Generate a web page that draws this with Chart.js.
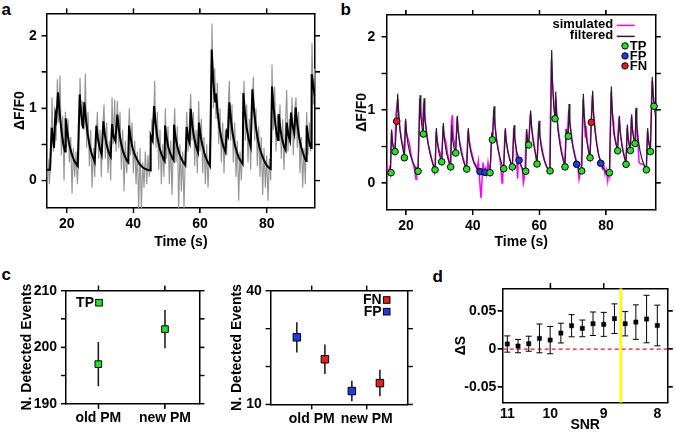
<!DOCTYPE html>
<html><head><meta charset="utf-8">
<script src="https://cdn.jsdelivr.net/npm/chart.js@4/dist/chart.umd.min.js"></script>
<style>
html,body{margin:0;padding:0;background:#fff;width:675px;height:435px;overflow:hidden;position:relative;}
canvas{position:absolute;}
.lbl{position:absolute;font:bold 17px "Liberation Sans",Arial,sans-serif;line-height:17px;color:#000;}
</style></head><body>
<div class="lbl" style="left:1.5px;top:0.6px">a</div>
<div class="lbl" style="left:340.5px;top:0.6px">b</div>
<div class="lbl" style="left:1.5px;top:265.6px">c</div>
<div class="lbl" style="left:432.5px;top:267.6px">d</div>
<canvas id="ca" width="337" height="252" style="left:0px;top:0px"></canvas>
<canvas id="cb" width="338" height="252" style="left:337px;top:0px"></canvas>
<canvas id="cc1" width="225" height="180" style="left:0px;top:255px"></canvas>
<canvas id="cc2" width="215" height="180" style="left:225px;top:255px"></canvas>
<canvas id="cd" width="235" height="180" style="left:440px;top:255px"></canvas>
<script>
// ---------------- DATA ----------------
// Panel a: model fit (black) as [time s, dF/F0]
const aFit = [[14.0,.15],[15.0,.15],[15.5,.73],[16.2,.45],[16.6,.92],[16.9,.85],[17.4,1.22],[18.0,.88],[18.5,.66],[19.0,.50],[19.5,.40],[19.7,.86],[20.2,.66],[20.7,.52],[21.2,.42],[21.7,.34],[22.2,.28],[22.7,.24],[23.3,.20],[23.9,1.19],[24.4,.90],[24.9,.72],[25.3,1.08],[25.8,.83],[26.3,.64],[26.8,.50],[27.3,.40],[27.8,.33],[28.4,.26],[28.9,.76],[29.4,.57],[29.9,.45],[30.5,.36],[31.0,.82],[31.5,.62],[32.0,.49],[32.6,.39],[33.2,.33],[33.6,.78],[34.1,.60],[34.6,.55],[35.2,.91],[35.7,.69],[36.2,.54],[36.8,.42],[37.4,.34],[38.0,.28],[38.5,.25],[38.7,.76],[39.2,.58],[39.7,.46],[40.3,.37],[41.0,.30],[41.8,.23],[42.6,.19],[43.5,.16],[44.5,.145],[45.1,.14],[45.2,.62],[45.8,.55],[46.2,1.03],[46.7,.78],[47.2,.60],[47.8,.46],[48.4,.37],[49.0,.30],[49.4,.27],[49.5,.76],[50.0,.58],[50.5,.46],[51.1,.37],[51.7,.31],[52.1,.28],[52.2,.77],[52.7,.59],[53.2,.47],[53.8,.37],[54.4,.30],[55.0,.25],[55.6,.21],[56.0,.74],[56.5,.58],[56.9,.52],[57.2,.99],[57.7,.76],[58.2,.60],[58.8,.47],[59.4,.39],[59.7,.80],[60.2,.61],[60.7,.49],[61.3,.38],[61.9,.30],[62.5,.24],[63.0,.20],[63.5,1.81],[64.0,1.36],[64.5,1.08],[64.8,1.20],[65.3,.93],[65.8,.74],[66.4,.58],[67.0,.47],[67.6,.40],[68.0,.67],[68.4,.62],[68.8,1.08],[69.3,.83],[69.8,.65],[70.4,.50],[71.0,.40],[71.6,.32],[72.2,.27],[72.8,.23],[73.0,1.21],[73.5,.93],[74.0,.73],[74.6,.57],[75.2,.47],[75.7,1.26],[76.2,.97],[76.7,.76],[77.3,.58],[77.9,.45],[78.5,.36],[79.2,.28],[80.0,.21],[80.8,.17],[81.2,.16],[81.6,1.30],[82.1,1.00],[82.6,.78],[83.1,.62],[83.4,.56],[83.6,.92],[84.1,.72],[84.6,.58],[85.2,.47],[85.7,.42],[86.0,.80],[86.5,.63],[87.0,.55],[87.3,.94],[87.8,.75],[88.3,.65],[88.7,1.01],[89.2,.78],[89.7,.61],[90.3,.47],[90.9,.38],[91.5,.30],[91.9,.27],[92.0,.76],[92.5,.59],[93.0,.48],[93.3,.45],[93.5,1.47],[94.0,1.30],[94.5,1.15]];
// Panel a: raw recording (grey), sampled every 0.4 s from 14.0 s
const aRawStart = 14.0, aRawStep = 0.4;
const aRaw = [.05,.30,-.05,.25,1.15,.40,.85,.55,1.40,.80,
1.45,.35,.90,.00,.95,.45,.85,.25,.60,-.18,
.45,.05,.40,-.05,.30,1.42,.75,1.10,.70,1.48,
.45,.95,.20,.70,-.10,.45,.05,.55,.95,.30,
.70,.05,.75,1.05,.30,.80,.10,.55,.00,1.15,
.50,1.12,.40,1.10,.45,.95,.15,.70,-.15,.55,
.10,.45,1.00,.35,.80,.10,.55,-.05,.40,-.40,
.45,-.38,.25,-.10,.40,-.05,.35,.05,.50,.85,
.65,1.38,.45,.95,.15,.70,-.05,.50,.05,1.00,
.30,.75,-.05,.55,-.20,.45,1.00,.25,.75,-.38,
.50,-.15,.40,-.38,.35,.95,.40,.80,1.20,.55,
.95,.20,.70,.10,1.10,.40,.85,.10,.60,-.05,
.50,-.10,.35,.60,2.17,1.00,1.55,.85,1.35,.50,
1.00,.25,.80,.10,.70,.35,.95,1.38,.55,1.05,
.25,.80,.05,.55,-.28,.40,.00,.45,1.38,.55,
1.05,.25,.85,.15,1.00,1.43,.55,1.00,.20,.75,
.05,.60,-.20,.45,-.10,.35,-.28,.30,.00,1.60,
.70,1.30,.40,.90,.60,1.05,.30,.85,.15,.70,
1.25,.40,.85,.55,1.15,.35,.95,1.15,.45,.95,
.10,.60,-.10,.45,-.05,.95,.35,.80,.40,1.90,
1.05,1.55];
// Panel b: filtered trace (black)
const bFiltered = [[14.2,.15],[15.3,.15],[15.7,.73],[15.95,.55],[16.3,.47],[16.7,.43],[17.2,.85],[17.5,1.22],[17.8,.92],[18.2,.72],[18.7,.55],[19.2,.43],[19.5,.36],[19.9,.88],[20.15,.68],[20.6,.53],[21.1,.42],[21.6,.34],[22.1,.28],[22.6,.23],[23.1,.19],[23.6,.16],[24.2,1.2],[24.45,.92],[24.9,.72],[25.2,.67],[25.4,1.16],[25.65,.9],[26.1,.7],[26.6,.54],[27.1,.42],[27.6,.33],[28.1,.26],[28.7,.19],[29.1,.75],[29.35,.57],[29.8,.43],[30.3,.34],[30.7,.29],[31.2,.82],[31.45,.62],[31.9,.47],[32.4,.36],[32.9,.28],[33.4,.22],[33.7,.8],[33.95,.6],[34.4,.48],[34.9,.41],[35.4,.92],[35.65,.7],[36.1,.53],[36.6,.41],[37.1,.32],[37.6,.25],[38.2,.19],[38.7,.75],[38.95,.56],[39.4,.43],[39.9,.34],[40.4,.27],[41.0,.22],[41.6,.18],[42.2,.16],[43.7,.145],[45.2,.14],[45.7,.68],[45.9,.59],[46.4,1.05],[46.65,.8],[47.1,.6],[47.6,.46],[48.1,.36],[48.7,.26],[49.3,.2],[49.8,.75],[50.05,.57],[50.5,.44],[51.0,.34],[51.5,.26],[51.9,.22],[52.4,.79],[52.65,.6],[53.1,.46],[53.5,.37],[53.9,.31],[54.4,.25],[54.9,.2],[55.4,.17],[55.9,.16],[56.2,.74],[56.45,.58],[56.8,.52],[57.4,.99],[57.65,.76],[58.1,.58],[58.6,.45],[59.0,.36],[59.3,.27],[59.9,.85],[60.15,.64],[60.6,.48],[61.1,.37],[61.6,.29],[62.1,.23],[62.6,.19],[63.2,.165],[63.7,1.82],[63.95,1.35],[64.4,1.0],[64.7,.88],[64.9,1.25],[65.15,.95],[65.6,.72],[66.1,.55],[66.6,.42],[67.1,.32],[67.7,.23],[68.1,.74],[68.4,.62],[68.7,.64],[68.9,1.08],[69.15,.83],[69.6,.63],[70.1,.48],[70.6,.37],[71.2,.26],[71.7,.21],[72.2,.17],[72.7,.165],[73.2,1.22],[73.45,.93],[73.9,.7],[74.4,.53],[74.8,.42],[75.2,.35],[75.6,.83],[76.0,1.26],[76.25,.95],[76.7,.71],[77.2,.53],[77.8,.38],[78.4,.27],[79.0,.21],[79.6,.17],[80.2,.14],[81.0,.14],[81.6,1.32],[81.85,1.0],[82.3,.75],[82.8,.57],[83.5,.44],[84.0,.92],[84.25,.7],[84.7,.53],[85.2,.41],[85.6,.33],[86.0,.27],[86.4,.8],[86.65,.6],[87.0,.5],[87.3,.46],[87.7,.94],[87.95,.72],[88.4,.58],[88.7,.54],[89.0,1.03],[89.25,.78],[89.7,.58],[90.2,.44],[90.7,.34],[91.2,.27],[91.7,.21],[92.1,.19],[92.5,.75],[92.75,.57],[93.0,.5],[93.3,.44],[93.9,1.45],[94.15,1.2],[94.4,1.06],[94.9,.9]];
// Panel b: simulated trace (magenta)
const bSimulated = [[14.2,.25],[14.6,.12],[15.0,.2],[15.3,.13],[15.6,.70],[15.9,.55],[16.3,.47],[16.6,.42],[17.0,.95],[17.5,1.15],[17.8,.95],[18.2,.73],[18.7,.58],[19.2,.5],[19.5,.40],[19.8,.85],[20.1,.70],[20.6,.6],[21.0,.55],[21.4,.42],[21.9,.3],[22.4,.22],[22.8,.1],[23.0,.05],[23.2,.2],[23.6,.17],[24.1,1.15],[24.4,.95],[24.9,.78],[25.3,1.1],[25.6,.92],[26.1,.72],[26.6,.55],[27.1,.45],[27.6,.35],[28.1,.25],[28.5,.15],[28.8,.25],[29.0,.7],[29.3,.6],[29.8,.47],[30.3,.4],[30.7,.3],[31.1,.78],[31.4,.65],[31.9,.58],[32.4,.42],[32.9,.3],[33.3,.22],[33.6,.82],[33.9,.93],[34.2,.62],[34.6,.55],[34.9,.45],[35.3,.9],[35.6,.75],[36.1,.57],[36.6,.45],[37.1,.35],[37.6,.26],[38.1,.2],[38.6,.72],[38.9,.6],[39.4,.47],[39.9,.38],[40.4,.28],[40.9,.25],[41.3,.18],[41.7,.3],[42.0,.1],[42.3,-.1],[42.5,-.21],[42.8,.05],[43.1,.28],[43.4,.15],[43.8,.2],[44.2,.12],[44.6,.28],[45.0,.15],[45.4,.3],[45.7,.65],[46.0,.6],[46.3,1.0],[46.6,.85],[47.1,.62],[47.6,.48],[48.1,.35],[48.5,.2],[48.8,.0],[49.0,.08],[49.3,.25],[49.7,.72],[50.0,.6],[50.5,.45],[51.0,.35],[51.5,.27],[51.9,.2],[52.3,.75],[52.6,.62],[53.0,.48],[53.3,.2],[53.5,.06],[53.7,.35],[54.0,.3],[54.4,.25],[54.9,.18],[55.2,.0],[55.4,.05],[55.7,.2],[56.1,.7],[56.4,.6],[56.8,.55],[57.3,.95],[57.6,.8],[58.1,.62],[58.6,.48],[59.0,.35],[59.3,.25],[59.8,.82],[60.1,.66],[60.6,.52],[61.1,.4],[61.6,.3],[62.1,.24],[62.6,.18],[63.1,.18],[63.6,1.7],[63.9,1.4],[64.4,1.05],[64.7,.92],[64.9,1.18],[65.2,.98],[65.6,.76],[66.1,.6],[66.6,.45],[67.1,.35],[67.6,.25],[68.0,.7],[68.4,.65],[68.8,1.0],[69.1,.85],[69.6,.66],[70.1,.5],[70.6,.4],[71.1,.3],[71.6,.2],[71.9,.05],[72.2,.12],[72.6,.2],[73.1,1.15],[73.4,.95],[73.8,.62],[74.0,.78],[74.4,.55],[74.8,.45],[75.2,.35],[75.5,.8],[75.9,1.2],[76.2,.98],[76.7,.75],[77.2,.55],[77.8,.38],[78.4,.3],[78.9,.2],[79.3,.25],[79.7,.12],[80.1,.18],[80.5,.03],[80.8,.15],[81.1,.1],[81.5,1.25],[81.8,1.02],[82.1,.85],[82.3,.68],[82.8,.58],[83.3,.47],[83.9,.9],[84.2,.72],[84.7,.55],[85.2,.42],[85.6,.35],[86.0,.28],[86.3,.75],[86.6,.62],[87.0,.52],[87.3,.48],[87.6,.9],[87.9,.75],[88.4,.6],[88.7,.55],[88.9,1.0],[89.2,.78],[89.6,.55],[89.9,.28],[90.4,.26],[90.9,.26],[91.3,.25],[91.7,.22],[92.1,.2],[92.4,.7],[92.7,.6],[93.0,.52],[93.3,.45],[93.8,1.4],[94.1,1.25],[94.4,1.1],[94.9,.95]];
// Panel b: detected events
const bTP = [[15.5,.14],[16.7,.43],[19.5,.345],[23.6,.16],[25.2,.67],[28.7,.18],[30.7,.29],[33.4,.22],[34.9,.41],[38.2,.19],[45.2,.14],[45.9,.59],[49.3,.195],[51.9,.22],[55.9,.16],[56.8,.52],[59.3,.26],[63.2,.165],[64.7,.88],[67.7,.22],[68.7,.64],[72.7,.165],[75.2,.345],[81.0,.14],[83.5,.44],[86.0,.255],[87.3,.445],[88.7,.54],[92.1,.18],[93.3,.43],[94.4,1.05]];
const bFP = [[42.2,.155],[43.7,.145],[53.9,.31],[71.2,.255],[78.4,.27]];
const bFN = [[17.2,.845],[75.6,.83]];
// Panel c
const cCategories = ['old PM', 'new PM'];
const tpMean = [197.0, 203.2];
const tpErr  = [3.9, 3.4];
const fpMean = [27.7, 13.5];
const fpErr  = [4.0, 2.7];
const fnMean = [21.9, 15.6];
const fnErr  = [3.9, 3.5];
// Panel d
const dsMean = [.0066,.0039,.0070,.0140,.0118,.0210,.0307,.0272,.0333,.0325,.0400,.0333,.0355,.0395,.0310];
const dsErr  = [.0107,.0088,.0099,.0190,.0180,.0130,.0146,.0110,.0155,.0158,.0195,.0160,.0227,.0313,.0268];
const snrTickIndex  = [0, 4, 9, 14];
const snrTickLabels = ['11', '10', '9', '8'];
const snrThresholdIndex = 10.59;

// ---------------- STYLE / HELPERS ----------------
const FONT = '"Liberation Sans", Arial, Helvetica, sans-serif';
Chart.defaults.font.family = FONT;
Chart.defaults.font.size = 14;
Chart.defaults.font.weight = 'bold';
Chart.defaults.color = '#000';
const GREEN = '#1ee61e', BLUE = '#1f3ce0', RED = '#e81c1c';
const pts = arr => arr.map(([x, y]) => ({x, y}));

// outward tick marks drawn from each scale's own tick values
const tickMarks = {
  id: 'tickMarks',
  afterDraw(chart, args, opts) {
    const ctx = chart.ctx, a = chart.chartArea, L = 5;
    const skip = (opts && opts.skip) || [];
    ctx.save();
    ctx.strokeStyle = '#000';
    ctx.lineWidth = 1.2;
    Object.values(chart.scales).forEach(s => {
      if (skip.includes(s.id)) return;
      s.ticks.forEach(t => {
        const p = s.getPixelForValue(t.value);
        ctx.beginPath();
        if (s.position === 'top') { ctx.moveTo(p, a.top); ctx.lineTo(p, a.top - L); }
        else if (s.position === 'bottom') { ctx.moveTo(p, a.bottom); ctx.lineTo(p, a.bottom + L); }
        else if (s.position === 'left') { ctx.moveTo(a.left, p); ctx.lineTo(a.left - L, p); }
        else { ctx.moveTo(a.right, p); ctx.lineTo(a.right + L, p); }
        ctx.stroke();
      });
    });
    ctx.restore();
  }
};
Chart.register(tickMarks);

function frame(o) {
  const grid = draw => ({display: true, drawOnChartArea: false, drawTicks: draw !== false, tickLength: 5, color: '#000', lineWidth: 1.2});
  const border = {display: true, color: '#000', width: 1.5};
  const fixed = vals => s => { s.ticks = vals.map(v => ({value: v})); };
  return {
    x: {type: 'linear', position: 'bottom', min: o.xMin, max: o.xMax,
        afterBuildTicks: fixed(o.xBotTicks), afterFit: s => { s.height = o.H - o.box.b; },
        grid: grid(o.xBotDraw), border,
        ticks: {autoSkip: false, maxRotation: 0, padding: o.xPad, callback: (v, i) => o.xBotLabels[i]},
        title: {display: !!o.xTitle, text: o.xTitle || '', padding: {top: 0, bottom: o.xTitlePad || 0}}},
    xTop: {type: 'linear', axis: 'x', position: 'top', min: o.xMin, max: o.xMax,
        afterBuildTicks: fixed(o.xTopTicks), afterFit: s => { s.height = o.box.t; },
        grid: grid(), border, ticks: {display: false}},
    y: {type: 'linear', position: 'left', min: o.yMin, max: o.yMax,
        afterBuildTicks: fixed(o.yTicks), afterFit: s => { s.width = o.box.l; },
        grid: grid(), border,
        ticks: {autoSkip: false, padding: o.yPad, callback: (v, i) => o.yLabels[i]},
        title: {display: true, text: o.yTitle, padding: {top: o.yTitlePad, bottom: 0}}},
    yRight: {type: 'linear', axis: 'y', position: 'right', min: o.yMin, max: o.yMax,
        afterBuildTicks: fixed(o.yTicks), afterFit: s => { s.width = o.W - o.box.r; },
        grid: grid(), border, ticks: {display: false}}
  };
}
const baseOpts = (scales, skipTicks) => ({responsive: false, animation: false, layout: {padding: 0},
  plugins: {legend: {display: false}, tooltip: {enabled: false}, tickMarks: {skip: skipTicks || []}}, scales});

function errorSegments(xs, mean, err) {
  const out = [];
  mean.forEach((m, i) => { out.push({x: xs[i], y: m - err[i]}, {x: xs[i], y: m + err[i]}, {x: xs[i], y: null}); });
  return out;
}

// ---------------- PANEL a ----------------
new Chart(document.getElementById('ca'), {
  type: 'line',
  data: {datasets: [
    {data: pts(aFit), borderColor: '#000', borderWidth: 2, pointRadius: 0, tension: 0, clip: 0},
    {data: aRaw.map((y, i) => ({x: aRawStart + i * aRawStep, y})), borderColor: '#959595', borderWidth: 1.15, pointRadius: 0, tension: 0, clip: 0}
  ]},
  options: baseOpts(frame({W: 337, H: 252, box: {l: 46.7, t: 12.3, r: 315, b: 208},
    xMin: 14, xMax: 94.5, yMin: -0.38, yMax: 2.31,
    xBotTicks: [20, 40, 60, 80], xBotLabels: ['20', '40', '60', '80'], xTopTicks: [20, 40, 60, 80],
    yTicks: [0, 0.5, 1, 1.5, 2], yLabels: ['0', '', '1', '', '2'],
    xPad: 3, yPad: 5, xTitle: 'Time (s)', xTitlePad: 1.6, yTitle: 'ΔF/F0', yTitlePad: 11.6}))
});

// ---------------- PANEL b ----------------
const legendB = {
  id: 'legendB',
  afterDraw(chart) {
    const {ctx, chartArea: a} = chart;
    ctx.save();
    ctx.font = 'bold 13px ' + FONT;
    ctx.fillStyle = '#000';
    ctx.textBaseline = 'middle';
    ctx.textAlign = 'right';
    ctx.fillText('simulated', a.right - 42.5, a.top + 9.7);
    ctx.fillText('filtered', a.right - 42.5, a.top + 21);
    ctx.lineWidth = 1.5;
    ctx.strokeStyle = '#ff00ff';
    ctx.beginPath(); ctx.moveTo(a.right - 39, a.top + 10.5); ctx.lineTo(a.right - 21, a.top + 10.5); ctx.stroke();
    ctx.strokeStyle = '#222';
    ctx.beginPath(); ctx.moveTo(a.right - 39, a.top + 21.5); ctx.lineTo(a.right - 21, a.top + 21.5); ctx.stroke();
    const items = [['TP', GREEN, 31], ['FP', BLUE, 41], ['FN', RED, 51]];
    ctx.textAlign = 'left';
    items.forEach(([t, c, dy]) => {
      ctx.beginPath(); ctx.arc(a.right - 30.7, a.top + dy, 3.2, 0, Math.PI * 2);
      ctx.fillStyle = c; ctx.fill(); ctx.lineWidth = 1; ctx.strokeStyle = '#000'; ctx.stroke();
      ctx.fillStyle = '#000'; ctx.fillText(t, a.right - 26, a.top + dy + 0.5);
    });
    ctx.restore();
  }
};
const dot = (arr, color) => ({data: pts(arr), showLine: false, pointRadius: 3.3, pointBackgroundColor: color,
  pointBorderColor: '#000', pointBorderWidth: 1, clip: false});
new Chart(document.getElementById('cb'), {
  type: 'line',
  data: {datasets: [
    dot(bTP, GREEN), dot(bFP, BLUE), dot(bFN, RED),
    {data: pts(bFiltered), borderColor: '#222', borderWidth: 1.2, pointRadius: 0, tension: 0, clip: 0},
    {data: pts(bSimulated), borderColor: '#ff00ff', borderWidth: 1.5, pointRadius: 0, tension: 0, clip: 0}
  ]},
  options: baseOpts(frame({W: 338, H: 252, box: {l: 49.7, t: 12.3, r: 318.7, b: 210},
    xMin: 14.2, xMax: 94.9, yMin: -0.37, yMax: 2.30,
    xBotTicks: [20, 40, 60, 80], xBotLabels: ['20', '40', '60', '80'], xTopTicks: [20, 40, 60, 80],
    yTicks: [0, 0.5, 1, 1.5, 2], yLabels: ['0', '', '1', '', '2'],
    xPad: 3, yPad: 6.5, xTitle: 'Time (s)', xTitlePad: 1.6, yTitle: 'ΔF/F0', yTitlePad: 17.1})),
  plugins: [legendB]
});

// ---------------- PANEL c (TP) ----------------
const catPos = [1, 2];
function squareLegend(id, items, anchor) {
  return {id, afterDraw(chart) {
    const {ctx, chartArea: a} = chart;
    ctx.save();
    ctx.font = 'bold 14px ' + FONT;
    ctx.textBaseline = 'middle'; ctx.textAlign = 'right';
    items.forEach(([t, c, dy]) => {
      const sx = anchor === 'left' ? a.left + 33 : a.right - 21;
      const s = 6.6;
      ctx.fillStyle = c; ctx.fillRect(sx - s / 2, a.top + dy - s / 2, s, s);
      ctx.lineWidth = 1; ctx.strokeStyle = '#000'; ctx.strokeRect(sx - s / 2, a.top + dy - s / 2, s, s);
      ctx.fillStyle = '#000'; ctx.fillText(t, sx - 5, a.top + dy + 0.5);
    });
    ctx.restore();
  }};
}
const sq = (data, color, r) => ({data, showLine: false, pointStyle: 'rect', pointRadius: r, pointBackgroundColor: color,
  pointBorderColor: '#000', pointBorderWidth: 1, clip: false});
const bar = (data, w) => ({data, borderColor: '#222', borderWidth: w, pointRadius: 0, spanGaps: false, tension: 0, clip: false});
new Chart(document.getElementById('cc1'), {
  type: 'line',
  data: {datasets: [
    sq(catPos.map((x, i) => ({x, y: tpMean[i]})), GREEN, 4.7),
    bar(errorSegments(catPos, tpMean, tpErr), 1.6)
  ]},
  options: baseOpts(frame({W: 225, H: 180, box: {l: 66, t: 35.7, r: 199.3, b: 148.7},
    xMin: 0.515, xMax: 2.515, yMin: 190, yMax: 210,
    xBotTicks: catPos, xBotLabels: cCategories, xTopTicks: catPos,
    yTicks: [190, 195, 200, 205, 210], yLabels: ['190', '', '200', '', '210'],
    xPad: 1, yPad: 4, yTitle: 'N. Detected Events', yTitlePad: 18.6})),
  plugins: [squareLegend('legC1', [['TP', GREEN, 12]], 'left')]
});

// ---------------- PANEL c (FN/FP) ----------------
const fpOffset = -0.27, fnOffset = 0.24;
const fpX = catPos.map(x => x + fpOffset), fnX = catPos.map(x => x + fnOffset);
new Chart(document.getElementById('cc2'), {
  type: 'line',
  data: {datasets: [
    sq(fpX.map((x, i) => ({x, y: fpMean[i]})), BLUE, 5.3),
    sq(fnX.map((x, i) => ({x, y: fnMean[i]})), RED, 5.3),
    bar(errorSegments(fpX, fpMean, fpErr), 1.6),
    bar(errorSegments(fnX, fnMean, fnErr), 1.6)
  ]},
  options: baseOpts(frame({W: 215, H: 180, box: {l: 45.7, t: 35.7, r: 182.7, b: 149.3},
    xMin: 0.255, xMax: 2.745, yMin: 10, yMax: 40,
    xBotTicks: catPos, xBotLabels: cCategories, xTopTicks: catPos,
    yTicks: [10, 20, 30, 40], yLabels: ['10', '', '', '40'],
    xPad: 1, yPad: 4, yTitle: 'N. Detected Events', yTitlePad: 3.3})),
  plugins: [squareLegend('legC2', [['FN', RED, 9.3], ['FP', BLUE, 21]], 'right')]
});

// ---------------- PANEL d ----------------
const dX = dsMean.map((m, i) => i);
const dXMin = -0.43, dXMax = 14.97, dYMin = -0.0707, dYMax = 0.08;
new Chart(document.getElementById('cd'), {
  type: 'line',
  data: {datasets: [
    {data: dX.map((x, i) => ({x, y: dsMean[i]})), showLine: false, pointStyle: 'rect', pointRadius: 3,
      pointBackgroundColor: '#000', pointBorderColor: '#000', pointBorderWidth: 0.5, clip: false},
    {data: errorSegments(dX, dsMean, dsErr), borderColor: '#000', borderWidth: 1, spanGaps: false, tension: 0,
      pointStyle: 'line', pointRadius: 3, pointBorderColor: '#000', pointBorderWidth: 1, clip: false},
    {data: [{x: snrThresholdIndex, y: dYMin}, {x: snrThresholdIndex, y: dYMax}], borderColor: '#ffff00', borderWidth: 2.6, pointRadius: 0},
    {data: [{x: dXMin, y: 0}, {x: dXMax, y: 0}], borderColor: '#ee1111', borderWidth: 1.2, borderDash: [4, 3], pointRadius: 0}
  ]},
  options: baseOpts(frame({W: 235, H: 180, box: {l: 62.7, t: 33.3, r: 227.7, b: 147.7},
    xMin: dXMin, xMax: dXMax, yMin: dYMin, yMax: dYMax,
    xBotTicks: snrTickIndex, xBotLabels: snrTickLabels, xTopTicks: [snrTickIndex[1], snrTickIndex[2]], xBotDraw: false,
    yTicks: [-0.05, 0, 0.05], yLabels: ['-0.05', '0', '0.05'],
    xPad: 3, yPad: 1.5, xTitle: 'SNR', xTitlePad: 1.6, yTitle: 'ΔS', yTitlePad: 12.6}), ['x'])
});
</script>
</body></html>
